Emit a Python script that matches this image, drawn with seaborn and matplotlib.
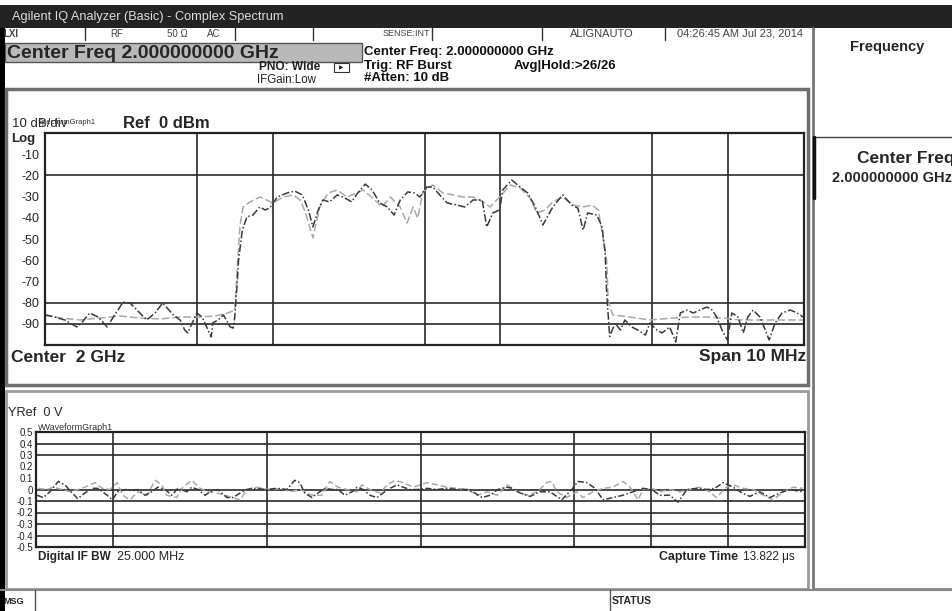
import matplotlib
matplotlib.use("Agg")
import matplotlib.pyplot as plt
from matplotlib.patches import Rectangle
import seaborn as sns
import pandas as pd

sns.set_style("white")
plt.rcParams['font.family'] = ['Liberation Sans', 'DejaVu Sans']

# spectrum traces (offset from 2 GHz centre, MHz / dBm)
spec_freq_dark = [-5.00, -4.87, -4.74, -4.58, -4.51, -4.41, -4.30, -4.18, -4.10, -3.97,
                  -3.88, -3.75, -3.66, -3.55, -3.45, -3.31, -3.22, -3.16, -3.12, -3.06,
                  -3.00, -2.93, -2.87, -2.81, -2.79, -2.72, -2.65, -2.56, -2.52, -2.50,
                  -2.47, -2.45, -2.40, -2.34, -2.26, -2.17, -2.10, -2.04, -1.94, -1.81,
                  -1.71, -1.61, -1.53, -1.47, -1.40, -1.34, -1.25, -1.15, -1.07, -0.96,
                  -0.88, -0.78, -0.69, -0.59, -0.49, -0.40, -0.32, -0.22, -0.13, -0.06,
                  0.03, 0.11, 0.20, 0.30, 0.43, 0.53, 0.64, 0.76, 0.82, 0.90,
                  0.99, 1.03, 1.15, 1.26, 1.36, 1.46, 1.56, 1.69, 1.82, 1.94,
                  2.02, 2.09, 2.15, 2.27, 2.34, 2.38, 2.40, 2.44, 2.51, 2.58,
                  2.64, 2.73, 2.81, 2.91, 2.97, 3.06, 3.13, 3.23, 3.31, 3.37,
                  3.46, 3.54, 3.63, 3.72, 3.79, 3.85, 3.92, 3.99, 4.05, 4.13,
                  4.20, 4.26, 4.33, 4.42, 4.49, 4.54, 4.62, 4.71, 4.82, 4.91, 4.99]
spec_dbm_dark = [-85.8, -86.8, -88.2, -91.5, -89.2, -84.9, -86.8, -91.5, -86.8, -79.7,
                 -80.2, -84.9, -88.2, -84.9, -80.2, -85.8, -88.2, -92.9, -94.3, -89.6,
                 -84.9, -86.8, -91.5, -96.2, -89.6, -88.2, -85.8, -91.5, -92.0, -86.8,
                 -72.0, -60.0, -45.8, -39.6, -38.7, -34.9, -36.3, -35.4, -30.2, -28.3,
                 -27.4, -29.2, -36.3, -44.3, -36.3, -31.6, -32.5, -29.2, -30.2, -32.5,
                 -28.3, -24.1, -26.9, -33.0, -34.9, -38.7, -31.6, -27.8, -28.3, -30.2,
                 -25.5, -25.5, -29.2, -33.0, -34.0, -34.9, -31.6, -31.6, -44.3, -37.7,
                 -36.3, -26.9, -22.2, -25.5, -28.3, -34.9, -43.4, -34.9, -29.2, -34.0,
                 -35.4, -45.8, -37.7, -38.7, -44.3, -56.6, -75.5, -96.0, -89.6, -92.9,
                 -88.2, -91.5, -92.9, -95.3, -89.6, -92.9, -94.3, -91.5, -98.6, -84.9,
                 -83.5, -84.9, -83.5, -82.1, -83.5, -86.8, -92.9, -97.6, -84.9, -86.8,
                 -94.3, -86.8, -83.5, -86.8, -92.9, -97.6, -89.6, -84.9, -83.5, -84.9, -86.8]

spec_freq_light = [-5.00, -4.80, -4.54, -4.28, -4.01, -3.75, -3.48, -3.22, -2.96, -2.76,
                   -2.59, -2.50, -2.46, -2.43, -2.39, -2.30, -2.17, -2.08, -2.00, -1.86,
                   -1.73, -1.64, -1.57, -1.47, -1.38, -1.27, -1.15, -1.02, -0.89, -0.81,
                   -0.68, -0.56, -0.45, -0.32, -0.23, -0.15, -0.09, -0.02, 0.11, 0.24,
                   0.38, 0.51, 0.64, 0.77, 0.86, 0.99, 1.13, 1.26, 1.39, 1.48,
                   1.59, 1.69, 1.82, 1.96, 2.09, 2.21, 2.29, 2.35, 2.40, 2.42,
                   2.48, 2.71, 2.97, 3.27, 3.50, 3.72, 3.93, 4.16, 4.38, 4.59, 4.82, 4.99]
spec_dbm_light = [-85.8, -87.3, -88.2, -87.3, -86.3, -87.3, -87.7, -86.8, -86.8, -86.3,
                  -84.9, -83.5, -59.9, -43.4, -34.9, -32.5, -30.2, -31.6, -33.0, -30.2,
                  -29.2, -31.6, -37.3, -49.5, -34.9, -28.3, -26.9, -30.2, -28.3, -26.9,
                  -30.7, -34.9, -30.2, -34.9, -42.5, -34.9, -40.1, -27.8, -24.5, -28.3,
                  -29.2, -30.2, -30.2, -32.5, -34.9, -30.2, -24.5, -25.9, -30.7, -37.7,
                  -36.3, -32.5, -30.2, -34.0, -34.9, -34.0, -36.3, -49.1, -59.9, -78.8,
                  -85.8, -86.8, -88.2, -87.3, -86.8, -86.8, -87.3, -88.2, -88.2, -88.2, -88.2, -88.2]

spec_yticks = [-10, -20, -30, -40, -50, -60, -70, -80, -90]
spec_grid_x = [-3, -2, 0, 1, 3, 4]
spec_grid_y = [-20, -80, -90]

# IQ waveform traces (time in us / volts)
capture_time = 13.822
wave_t_dark = [0.02, 0.13, 0.25, 0.40, 0.52, 0.65, 0.75, 0.88, 1.01, 1.11,
               1.28, 1.37, 1.47, 1.60, 1.73, 1.83, 1.96, 2.08, 2.19, 2.32,
               2.44, 2.55, 2.71, 2.80, 2.91, 3.04, 3.13, 3.27, 3.43, 3.54,
               3.67, 3.79, 3.90, 4.15, 4.33, 4.51, 4.65, 4.74, 4.83, 4.96,
               5.07, 5.19, 5.32, 5.43, 5.55, 5.68, 5.77, 5.88, 6.00, 6.13,
               6.24, 6.36, 6.49, 6.60, 6.72, 6.85, 7.03, 7.21, 7.39, 7.57,
               7.75, 7.85, 8.02, 8.16, 8.30, 8.46, 8.57, 8.70, 8.88, 9.06,
               9.24, 9.45, 9.63, 9.74, 9.90, 10.05, 10.19, 10.37, 10.55, 10.73,
               10.91, 11.07, 11.21, 11.39, 11.54, 11.70, 11.88, 12.06, 12.20, 12.35,
               12.53, 12.69, 12.83, 13.01, 13.19, 13.37, 13.55, 13.78]
wave_v_dark = [-0.05, -0.07, -0.02, 0.07, 0.04, -0.03, -0.08, -0.03, 0.01, 0.01,
               -0.05, -0.09, -0.02, 0.00, -0.01, 0.00, -0.05, -0.02, 0.02, 0.00,
               -0.05, 0.01, -0.02, 0.02, 0.00, -0.05, -0.02, 0.00, -0.07, -0.07,
               -0.03, 0.00, 0.01, 0.00, 0.01, 0.00, 0.08, 0.06, -0.03, -0.07,
               -0.03, 0.01, 0.00, 0.00, -0.05, -0.02, 0.02, 0.00, -0.05, -0.07,
               -0.03, 0.01, 0.04, 0.02, 0.00, 0.00, 0.01, 0.00, 0.01, 0.00,
               0.00, -0.02, -0.07, -0.05, 0.00, 0.02, 0.01, -0.03, -0.06, -0.02,
               -0.02, -0.09, 0.00, 0.07, 0.06, 0.01, -0.09, -0.07, -0.05, -0.02,
               0.01, 0.00, -0.05, -0.05, -0.11, 0.00, 0.01, 0.00, 0.01, 0.06,
               0.02, -0.03, -0.06, -0.02, -0.07, -0.03, 0.00, -0.02]
wave_t_light = [0.04, 0.20, 0.31, 0.47, 0.61, 0.75, 0.88, 1.06, 1.19, 1.33,
                1.46, 1.56, 1.69, 1.83, 2.00, 2.14, 2.26, 2.35, 2.53, 2.64,
                2.80, 2.95, 3.09, 3.25, 3.40, 3.52, 3.67, 3.79, 3.94, 4.08,
                4.26, 4.42, 4.57, 4.75, 4.96, 5.14, 5.28, 5.43, 5.59, 5.77,
                5.86, 6.00, 6.18, 6.31, 6.45, 6.60, 6.78, 7.03, 7.21, 7.39,
                7.57, 7.75, 7.93, 8.11, 8.29, 8.47, 8.65, 8.83, 9.01, 9.18,
                9.27, 9.36, 9.54, 9.72, 9.83, 10.01, 10.19, 10.37, 10.55, 10.68,
                10.82, 10.91, 11.07, 11.21, 11.39, 11.57, 11.75, 11.93, 12.11, 12.23,
                12.41, 12.53, 12.71, 12.89, 13.07, 13.25, 13.43, 13.61, 13.78]
wave_v_light = [0.01, 0.00, 0.02, 0.00, -0.02, 0.00, 0.02, 0.06, 0.01, 0.00,
                0.06, -0.05, -0.09, -0.02, -0.05, 0.08, 0.04, -0.05, -0.07, 0.02,
                0.08, 0.01, -0.02, -0.03, -0.05, -0.07, -0.09, 0.00, 0.02, 0.01,
                0.00, 0.01, -0.02, 0.00, -0.05, -0.05, 0.07, 0.02, 0.00, -0.02,
                0.04, 0.00, -0.03, 0.04, 0.08, 0.06, 0.02, 0.06, 0.04, 0.02,
                0.01, 0.00, -0.05, -0.02, -0.05, 0.04, -0.02, -0.05, -0.02, 0.06,
                0.07, -0.02, -0.07, -0.02, -0.07, -0.02, 0.01, 0.02, 0.07, 0.02,
                -0.09, 0.00, 0.01, -0.02, 0.00, -0.02, 0.00, 0.02, -0.02, -0.07,
                0.02, 0.04, 0.01, 0.00, -0.05, -0.09, -0.02, 0.02, 0.01]

wave_yticks = [0.5, 0.4, 0.3, 0.2, 0.1, 0, -0.1, -0.2, -0.3, -0.4, -0.5]
wave_ylabels = ['0.5', '0.4', '0.3', '0.2', '0.1', '0', '-0.1', '-0.2', '-0.3', '-0.4', '-0.5']
wave_grid_div = [1, 3, 5, 7, 8, 9]
wave_grid_v = [0.4, 0.3, 0, -0.1, -0.2, -0.3, -0.4]

spec_dark = pd.DataFrame({'freq': spec_freq_dark, 'dbm': spec_dbm_dark})
spec_light = pd.DataFrame({'freq': spec_freq_light, 'dbm': spec_dbm_light})
wave_dark = pd.DataFrame({'t': wave_t_dark, 'v': wave_v_dark})
wave_light = pd.DataFrame({'t': wave_t_light, 'v': wave_v_light})

W, H = 953, 611
fig = plt.figure(figsize=(W / 100, H / 100), dpi=100)
fig.patch.set_facecolor('white')

# background layer in pixel units for the instrument frame
bg = fig.add_axes([0, 0, 1, 1])
bg.set_xlim(0, W)
bg.set_ylim(H, 0)
bg.axis('off')


def box(x0, y0, x1, y1, **kw):
    bg.add_patch(Rectangle((x0, y0), x1 - x0, y1 - y0, **kw))


def px_axes(x0, y0, x1, y1):
    return fig.add_axes([x0 / W, 1 - y1 / H, (x1 - x0) / W, (y1 - y0) / H])


# title bar
box(0, 5, W, 28, facecolor='#232323', edgecolor='none')
bg.text(12, 17, 'Agilent IQ Analyzer (Basic) - Complex Spectrum', color='#dcdcdc',
        fontsize=9.2, va='center')

# status row
for xs in [85, 235, 313, 432, 542, 665]:
    bg.plot([xs, xs], [28, 40], color='#333', lw=1)
row_font = dict(va='center', color='#444')
bg.text(3, 34, 'LXI', fontweight='bold', fontsize=7, **row_font)
bg.text(110, 34, 'RF', fontsize=7, **row_font)
bg.text(167, 34, '50 Ω', fontsize=7, **row_font)
bg.text(207, 34, 'AC', fontsize=7, **row_font)
bg.text(430, 34, 'SENSE:INT', ha='right', fontsize=6.5, **row_font)
bg.text(570, 34, 'ALIGNAUTO', fontsize=8, **row_font)
bg.text(677, 34, '04:26:45 AM Jul 23, 2014', fontsize=8, **row_font)

# active function box
box(5, 43, 362, 62, facecolor='#b9b9b9', edgecolor='#555', lw=1)
bg.text(7, 53, 'Center Freq 2.000000000 GHz', fontsize=14, fontweight='bold', va='center')
bg.text(320, 67, 'PNO: Wide', fontsize=8.6, fontweight='bold', va='center', ha='right', color='#222')
bg.text(257, 80, 'IFGain:Low', fontsize=8.3, va='center', color='#222')
box(334, 63, 349, 72, facecolor='none', edgecolor='#333', lw=0.8)
bg.text(341.5, 68, '▶', fontsize=4, ha='center', va='center', family='DejaVu Sans')
hdr = dict(fontsize=9.5, fontweight='bold', va='center', color='#111')
bg.text(364, 52, 'Center Freq: 2.000000000 GHz', **hdr)
bg.text(364, 66, 'Trig: RF Burst', **hdr)
bg.text(364, 78, '#Atten: 10 dB', **hdr)
bg.text(514, 66, 'Avg|Hold:>26/26', **hdr)

# left black edge
box(0, 28, 5, H, facecolor='black', edgecolor='none')

# panels
box(6, 89, 808, 385, facecolor='white', edgecolor='#6e6e6e', lw=2.5)
box(6, 391, 808, 589, facecolor='white', edgecolor='#9a9a9a', lw=2)
bg.plot([813, 813], [28, 589], color='#777', lw=2)
bg.plot([813, W], [137, 137], color='#444', lw=1)
bg.plot([814, 814], [137, 198], color='#111', lw=2.5)
bg.plot([813, W], [589, 589], color='#888', lw=2)
bg.text(887, 47, 'Frequency', fontsize=10.5, fontweight='bold', ha='center', va='center')
bg.text(857, 158, 'Center Freq', fontsize=12.5, fontweight='bold', va='center')
bg.text(832, 178, '2.000000000 GHz', fontsize=10.5, fontweight='bold', va='center')

# message bar
bg.plot([0, W], [590, 590], color='#888', lw=1.5)
bg.plot([35, 35], [590, H], color='#555', lw=1)
bg.plot([610, 610], [590, H], color='#555', lw=1)
bg.text(3, 601, 'MSG', fontsize=6.5, fontweight='bold', va='center')
bg.text(612, 601, 'STATUS', fontsize=7.5, fontweight='bold', va='center')

# spectrum panel labels (graph name overprints the scale text on the instrument)
bg.text(12, 124, '10 dB/div', fontsize=9.5, va='center')
bg.text(38, 122, 'SpectrumGraph1', fontsize=5.5, va='center', color='#333')
bg.text(123, 124, 'Ref  0 dBm', fontsize=12, fontweight='bold', va='center')
bg.text(11, 139, 'Log', fontsize=9.5, fontweight='bold', va='center')
bg.text(11, 357, 'Center  2 GHz', fontsize=12.5, fontweight='bold', va='center')
bg.text(806, 357, 'Span 10 MHz', fontsize=12.5, fontweight='bold', va='center', ha='right')

# waveform panel labels
bg.text(8, 413, 'YRef  0 V', fontsize=9.2, va='center')
bg.text(38, 427, 'yWaveformGraph1', fontsize=6.5, va='center', color='#333')
bg.text(38, 557, 'Digital IF BW', fontsize=8.5, fontweight='bold', va='center')
bg.text(117, 557, '25.000 MHz', fontsize=9, va='center')
bg.text(738, 557, 'Capture Time', fontsize=8.9, fontweight='bold', va='center', ha='right')
bg.text(743, 557, f'{capture_time:.3f} μs', fontsize=8.5, va='center')

# spectrum plot
ax1 = px_axes(45, 133, 804, 345)
ax1.set_facecolor('white')
sns.lineplot(data=spec_light, x='freq', y='dbm', ax=ax1, color='#a9a9a9',
             linestyle=(0, (5, 2)), lw=1.1, sort=False)
sns.lineplot(data=spec_dark, x='freq', y='dbm', ax=ax1, color='#3a3a3a',
             linestyle=(0, (5, 1.5, 1, 1.5)), lw=1.1, sort=False)
for gx in spec_grid_x:
    ax1.axvline(gx, color='#2a2a2a', lw=1.2, zorder=0)
for gy in spec_grid_y:
    ax1.axhline(gy, color='#2a2a2a', lw=1.2, zorder=0)
ax1.set_xlim(-5, 5)
ax1.set_ylim(-100, 0)
ax1.set_xticks([])
ax1.set_yticks(spec_yticks)
ax1.set_yticklabels([str(v) for v in spec_yticks], fontsize=9)
ax1.tick_params(axis='y', length=0, pad=4)
ax1.set_xlabel('')
ax1.set_ylabel('')
for sp in ax1.spines.values():
    sp.set_color('#222')
    sp.set_linewidth(1.6)

# waveform plot
ax2 = px_axes(36, 432, 805, 547)
ax2.set_facecolor('white')
sns.lineplot(data=wave_light, x='t', y='v', ax=ax2, color='#a9a9a9',
             linestyle=(0, (4, 2)), lw=1.1, sort=False)
sns.lineplot(data=wave_dark, x='t', y='v', ax=ax2, color='#3a3a3a',
             linestyle=(0, (4, 1.5, 1, 1.5)), lw=1.1, sort=False)
for d in wave_grid_div:
    ax2.axvline(d * capture_time / 10, color='#2a2a2a', lw=1.2, zorder=0)
for gv in wave_grid_v:
    ax2.axhline(gv, color='#2a2a2a', lw=1.2, zorder=0)
ax2.set_xlim(0, capture_time)
ax2.set_ylim(-0.5, 0.5)
ax2.set_xticks([])
ax2.set_yticks(wave_yticks)
ax2.set_yticklabels(wave_ylabels, fontsize=7)
ax2.tick_params(axis='y', length=0, pad=2)
ax2.set_xlabel('')
ax2.set_ylabel('')
for sp in ax2.spines.values():
    sp.set_color('#222')
    sp.set_linewidth(1.6)

fig.savefig('out.png', dpi=100)
